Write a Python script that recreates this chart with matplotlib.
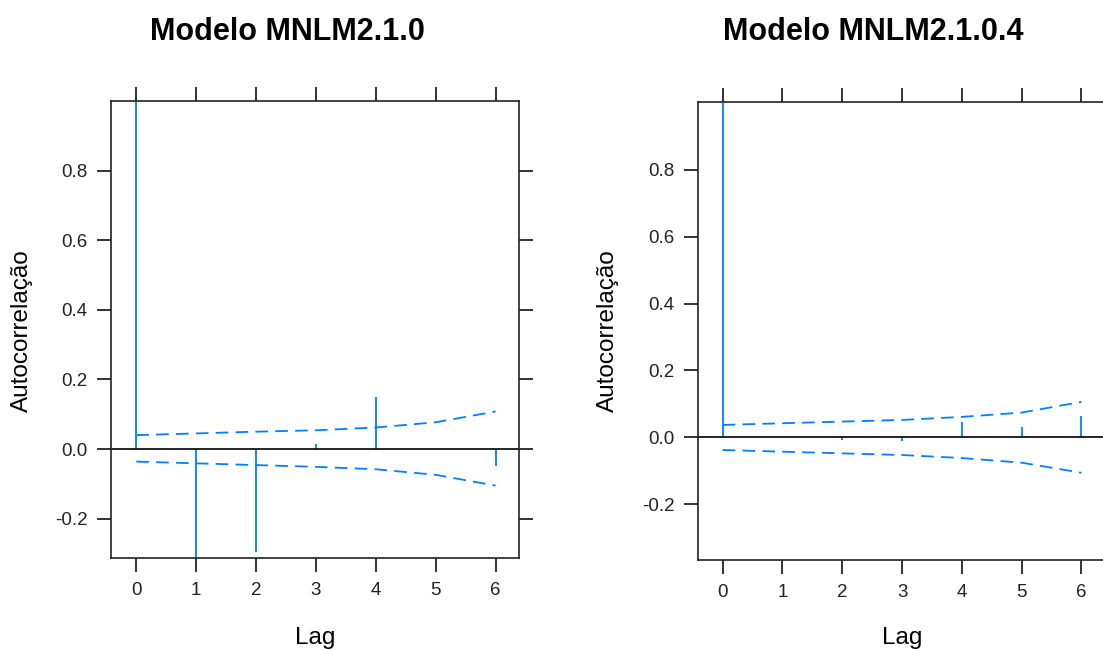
import matplotlib
matplotlib.use("Agg")
import matplotlib.pyplot as plt
import numpy as np

plt.rcParams['font.family'] = ['Liberation Sans', 'DejaVu Sans']

lags = [0, 1, 2, 3, 4, 5, 6]

# model MNLM2.1.0
acf_a = [1.0, -0.313, -0.296, 0.016, 0.151, 0.0, -0.048]
up_a = [0.040, 0.045, 0.050, 0.054, 0.062, 0.077, 0.108]
lo_a = [-0.036, -0.041, -0.046, -0.051, -0.058, -0.074, -0.105]

# model MNLM2.1.0.4
acf_b = [1.0, 0.0, -0.008, -0.012, 0.045, 0.030, 0.064]
up_b = [0.037, 0.042, 0.047, 0.052, 0.061, 0.074, 0.106]
lo_b = [-0.038, -0.043, -0.048, -0.053, -0.062, -0.076, -0.106]

titles = ['Modelo MNLM2.1.0', 'Modelo MNLM2.1.0.4']
yticks = [-0.2, 0.0, 0.2, 0.4, 0.6, 0.8]
blue = '#0080ff'

fig = plt.figure(figsize=(11.03, 6.5), dpi=100)
ax1 = fig.add_axes([0.1006, 0.1415, 0.3699, 0.7031])
ax2 = fig.add_axes([0.6331, 0.1385, 0.3696, 0.7050])

panels = [(ax1, acf_a, up_a, lo_a, (-0.423, 6.39), (-0.313, 1.0)),
          (ax2, acf_b, up_b, lo_b, (-0.408, 6.41), (-0.367, 1.004))]

for ax, acf, up, lo, xl, yl in panels:
    ax.vlines(lags, 0, acf, color=blue, lw=1.3)
    ax.plot(lags, up, color=blue, lw=1.3, ls=(0, (7, 4)))
    ax.plot(lags, lo, color=blue, lw=1.3, ls=(0, (7, 4)))
    ax.axhline(0, color='black', lw=1.2)
    ax.set_xlim(*xl)
    ax.set_ylim(*yl)
    ax.set_xticks(lags)
    ax.set_yticks(yticks)
    ax.set_yticklabels(['%.1f' % v for v in yticks])
    ax.tick_params(direction='out', length=10, width=1.3, labelsize=13.5,
                   top=True, right=True, pad=7, colors='#222222')
    for s in ax.spines.values():
        s.set_linewidth(1.2)
        s.set_color('#222222')

fig.text(0.261, 0.951, titles[0], ha='center', va='center',
         fontsize=22, fontweight='bold')
fig.text(0.792, 0.951, titles[1], ha='center', va='center',
         fontsize=22, fontweight='bold')
fig.text(0.2855, 0.018, 'Lag', ha='center', va='center', fontsize=17.5)
fig.text(0.818, 0.018, 'Lag', ha='center', va='center', fontsize=17.5)
fig.text(0.020, 0.492, 'Autocorrelação', ha='center', va='center',
         rotation=90, fontsize=17.5)
fig.text(0.551, 0.492, 'Autocorrelação', ha='center', va='center',
         rotation=90, fontsize=17.5)

plt.savefig('out.png', dpi=100)
